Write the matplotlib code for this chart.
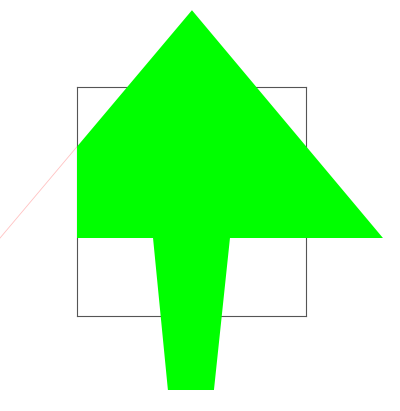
import matplotlib
matplotlib.use("Agg")
import matplotlib.pyplot as plt
from matplotlib.patches import Polygon, Rectangle

# arrow outline in axes data units (square axes spans 0..1)
arrow_x = [0.502, 1.336, 0.668, 0.598, 0.397, 0.332, -0.336]
arrow_y = [1.336, 0.341, 0.341, -0.323, -0.323, 0.341, 0.341]

fig = plt.figure(figsize=(4, 4.11), dpi=100)
ax = fig.add_axes([0.1925, 0.231, 0.5725, 0.557])
ax.set_xlim(0, 1)
ax.set_ylim(0, 1)
ax.set_xticks([])
ax.set_yticks([])
for s in ax.spines.values():
    s.set_color("#555555")
    s.set_linewidth(0.8)

poly = Polygon(list(zip(arrow_x, arrow_y)), closed=True, facecolor="#00ff00",
               edgecolor="none", clip_on=True, zorder=3)
ax.add_patch(poly)
clip = Rectangle((0, -1), 3, 3, transform=ax.transData)
poly.set_clip_path(clip)

# faint edge of the clipped-off part
x0, y0 = arrow_x[-1], arrow_y[-1]
x1, y1 = arrow_x[0], arrow_y[0]
ye = y0 + (0 - x0) * (y1 - y0) / (x1 - x0)
ax.plot([x0, 0], [y0, ye], color="#ff9999", lw=0.6, alpha=0.6, clip_on=False)

fig.savefig("out.png")
